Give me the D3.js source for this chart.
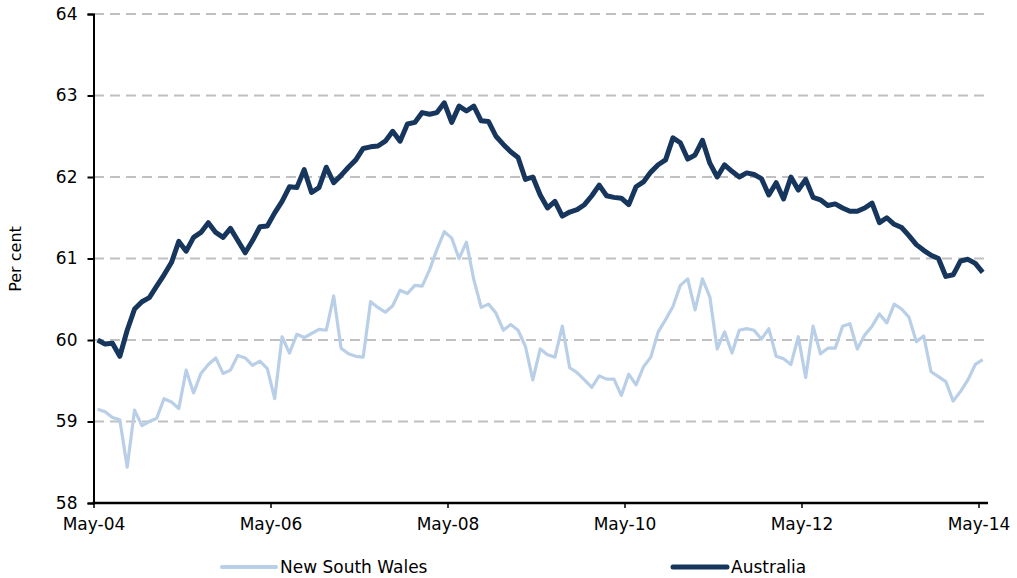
<!DOCTYPE html>
<html>
<head>
<meta charset="UTF-8">
<title>Participation rate</title>
<script src="https://d3js.org/d3.v7.min.js"></script>
<style>
  body { margin: 0; background: #fff; }
  svg { display: block; font-family: 'DejaVu Sans', sans-serif; }
</style>
</head>
<body>
<svg width="1017" height="578"></svg>
<script>
// monthly, May-04 .. May-14 (121 months)
let months = d3.timeMonth.range(new Date(2004, 4, 1), new Date(2014, 5, 1));

let australia = [
  60.00, 59.95, 59.96, 59.80, 60.12, 60.38, 60.47, 60.52, 60.66, 60.80,
  60.95, 61.21, 61.09, 61.26, 61.32, 61.44, 61.32, 61.26, 61.37, 61.22,
  61.07, 61.22, 61.39, 61.40, 61.56, 61.70, 61.88, 61.87, 62.09, 61.81,
  61.87, 62.12, 61.93, 62.02, 62.12, 62.21, 62.35, 62.37, 62.38, 62.44,
  62.56, 62.44, 62.65, 62.67, 62.79, 62.77, 62.79, 62.91, 62.67, 62.87,
  62.81, 62.87, 62.69, 62.68, 62.50, 62.40, 62.31, 62.24, 61.97, 62.00,
  61.78, 61.62, 61.70, 61.52, 61.57, 61.60, 61.66, 61.77, 61.90, 61.77,
  61.75, 61.74, 61.66, 61.88, 61.94, 62.06, 62.15, 62.21, 62.48, 62.42,
  62.22, 62.27, 62.45, 62.17, 62.00, 62.15, 62.07, 62.00, 62.05, 62.03,
  61.98, 61.78, 61.93, 61.73, 62.00, 61.84, 61.97, 61.75, 61.72, 61.65,
  61.67, 61.62, 61.58, 61.58, 61.62, 61.68, 61.44, 61.50, 61.42, 61.38,
  61.28, 61.17, 61.10, 61.04, 61.00, 60.78, 60.80, 60.97, 60.99, 60.94,
  60.83
];

let nsw = [
  59.15, 59.12, 59.05, 59.02, 58.44, 59.14, 58.95, 59.00, 59.04, 59.28,
  59.24, 59.16, 59.63, 59.35, 59.59, 59.70, 59.78, 59.59, 59.63, 59.81,
  59.78, 59.69, 59.74, 59.65, 59.28, 60.04, 59.84, 60.07, 60.03, 60.08,
  60.13, 60.12, 60.54, 59.90, 59.83, 59.80, 59.79, 60.47, 60.40, 60.34,
  60.42, 60.61, 60.57, 60.67, 60.66, 60.86, 61.11, 61.33, 61.25, 61.00,
  61.20, 60.74, 60.40, 60.44, 60.33, 60.12, 60.19, 60.12, 59.92, 59.51,
  59.89, 59.82, 59.79, 60.17, 59.66, 59.60, 59.51, 59.42, 59.56, 59.52,
  59.52, 59.32, 59.58, 59.45, 59.67, 59.79, 60.10, 60.25, 60.41, 60.67,
  60.75, 60.37, 60.75, 60.53, 59.89, 60.10, 59.84, 60.12, 60.14, 60.12,
  60.01, 60.14, 59.80, 59.77, 59.70, 60.04, 59.54, 60.17, 59.83, 59.90,
  59.90, 60.17, 60.20, 59.89, 60.06, 60.17, 60.32, 60.21, 60.44, 60.38,
  60.28, 59.98, 60.05, 59.61, 59.55, 59.49, 59.25, 59.37, 59.51, 59.70,
  59.76
];

let xTickLabels = ["May-04", "May-06", "May-08", "May-10", "May-12", "May-14"];
let yTicks = [58, 59, 60, 61, 62, 63, 64];

let svg = d3.select("svg");
let fmt = d3.timeFormat("%b-%y");

let x = d3.scaleBand()
  .domain(months.map(fmt))
  .range([94, 94 + 121 * 7.375]);
let y = d3.scaleLinear().domain([58, 64]).range([503, 14]);

// gridlines
svg.append("g").selectAll("line")
  .data(yTicks.filter(d => d > 58))
  .enter().append("line")
  .attr("x1", 94).attr("x2", 988)
  .attr("y1", d => y(d)).attr("y2", d => y(d))
  .attr("stroke", "#c0c0c0")
  .attr("stroke-width", 2)
  .attr("stroke-dasharray", "10,6");

// lines
let line = d3.line()
  .x((d, i) => x(fmt(months[i])) + x.bandwidth() / 2)
  .y(d => y(d));

svg.append("path")
  .datum(nsw)
  .attr("d", line)
  .attr("fill", "none")
  .attr("stroke", "#b9cfe7")
  .attr("stroke-width", 3.2)
  .attr("stroke-linejoin", "round");

svg.append("path")
  .datum(australia)
  .attr("d", line)
  .attr("fill", "none")
  .attr("stroke", "#17365d")
  .attr("stroke-width", 5)
  .attr("stroke-linejoin", "round");

// y axis
let yAxis = svg.append("g").attr("transform", "translate(93.5,0)")
  .call(d3.axisLeft(y).tickValues(yTicks).tickSize(6).tickPadding(10).tickFormat(d3.format("d")));
yAxis.select(".domain").attr("stroke", "#000").attr("stroke-width", 2);
yAxis.selectAll(".tick line").attr("stroke", "#000").attr("stroke-width", 2);
yAxis.selectAll("text").attr("font-size", 17).attr("fill", "#000")
  .attr("font-family", "'DejaVu Sans', sans-serif");

// x axis
let xAxis = svg.append("g").attr("transform", "translate(0,503)");
xAxis.append("line")
  .attr("x1", 92.5).attr("x2", 988)
  .attr("stroke", "#000").attr("stroke-width", 2.5);
let xt = xAxis.selectAll("g.tick")
  .data(xTickLabels)
  .enter().append("g")
  .attr("transform", d => `translate(${x(d)},0)`);
xt.append("line").attr("y2", 5).attr("stroke", "#000").attr("stroke-width", 1.5);
xt.append("text")
  .attr("y", 27)
  .attr("text-anchor", "middle")
  .attr("font-size", 17)
  .text(d => d);

// y label
svg.append("text")
  .attr("transform", "translate(21,259) rotate(-90)")
  .attr("text-anchor", "middle")
  .attr("font-size", 16)
  .text("Per cent");

// legend
let legend = [
  { name: "New South Wales", color: "#b9cfe7", w: 4, x: 222 },
  { name: "Australia", color: "#17365d", w: 5, x: 673 }
];
let lg = svg.append("g").selectAll("g")
  .data(legend)
  .enter().append("g")
  .attr("transform", d => `translate(${d.x},567)`);
lg.append("line")
  .attr("x1", 0).attr("x2", 54)
  .attr("stroke", d => d.color)
  .attr("stroke-width", d => d.w)
  .attr("stroke-linecap", "round");
lg.append("text")
  .attr("x", 58).attr("y", 6)
  .attr("font-size", 17)
  .text(d => d.name);
</script>
</body>
</html>
